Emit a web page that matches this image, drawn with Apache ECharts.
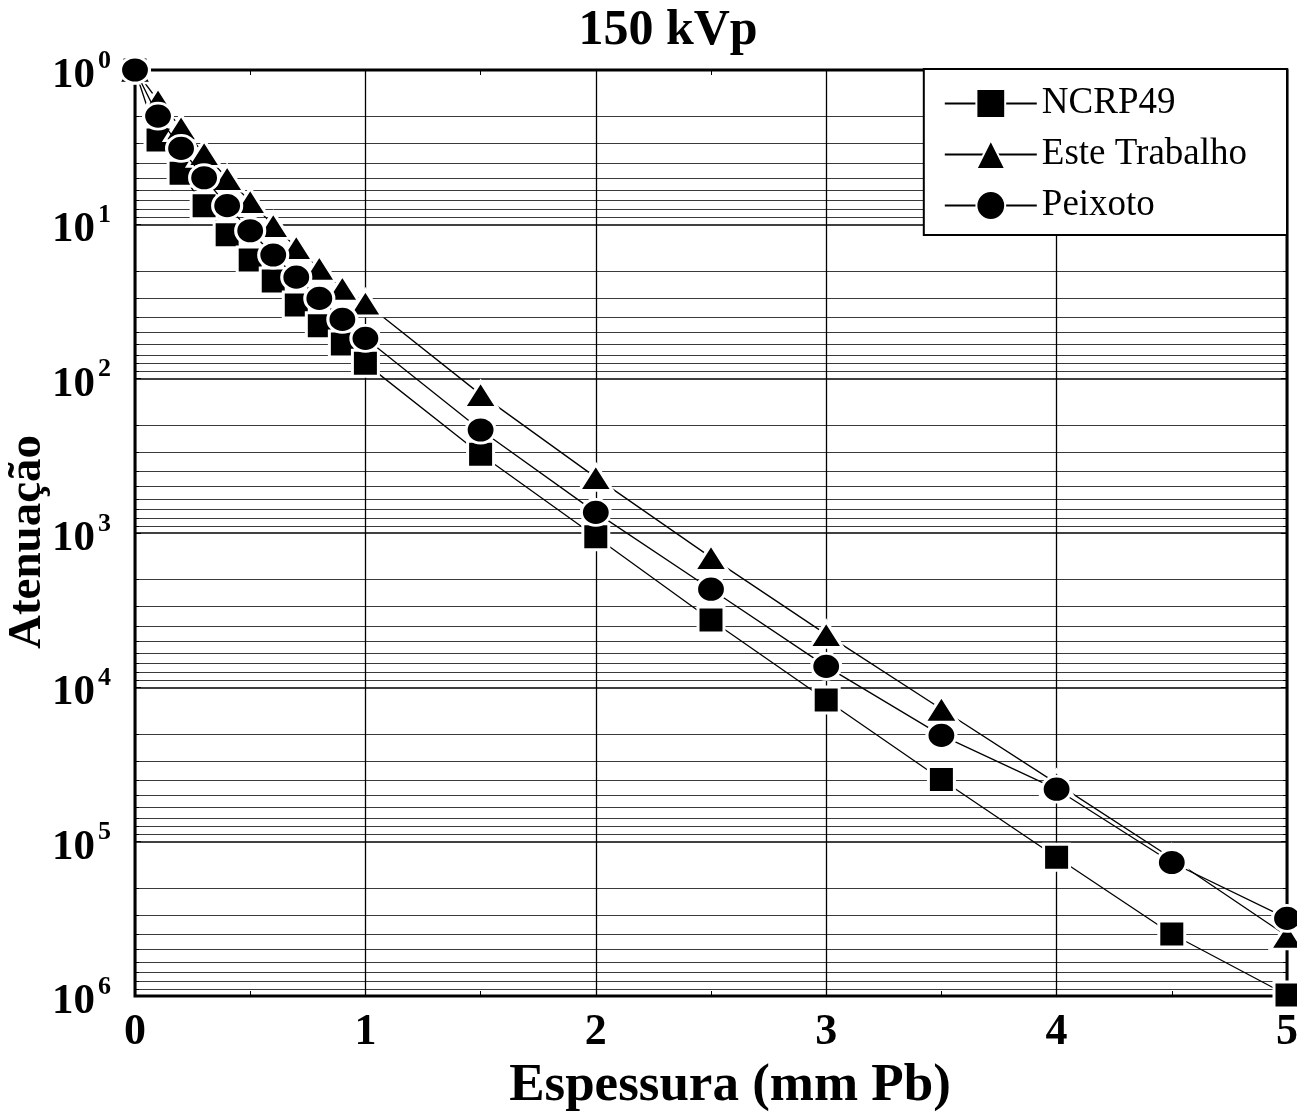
<!DOCTYPE html>
<html><head><meta charset="utf-8">
<script src="https://cdn.jsdelivr.net/npm/echarts@6/dist/echarts.min.js"></script>
<style>html,body{margin:0;padding:0;background:#fff}#c{width:1297px;height:1115px}</style>
</head><body><div id="c"></div>
<script>
// ---- data ----
const thickness = [0, 0.1, 0.2, 0.3, 0.4, 0.5, 0.6, 0.7, 0.8, 0.9, 1.0, 1.5, 2.0, 2.5, 3.0, 3.5, 4.0, 4.5, 5.0];
const ncrp49 = [1, 2.84, 4.67, 7.57, 11.7, 17.0, 23.3, 33.3, 45.4, 59.6, 79.6, 309, 1057, 3664, 12080, 39600, 126300, 396400, 985000];
const esteTrabalho = [1, 1.58, 2.36, 3.47, 5.03, 7.10, 10.15, 14.1, 19.2, 25.9, 32.3, 126.4, 436, 1438, 4536, 13810, 41900, 128200, 408600];
const peixoto = [1, 1.99, 3.22, 4.99, 7.57, 11.0, 15.8, 22.0, 30.2, 41.3, 54.8, 215, 735, 2313, 7311, 20470, 45710, 136500, 314000];
const seriesNames = ['NCRP49', 'Este Trabalho', 'Peixoto'];
const xTickValues = [0, 1, 2, 3, 4, 5];
const yDecades = [0, 1, 2, 3, 4, 5, 6];
const titleText = '150 kVp';
const xName = 'Espessura (mm Pb)';
const yName = 'Atenuação';

const F = '"Liberation Serif", "Times New Roman", serif';
const chart = echarts.init(document.getElementById('c'));

function pairs(ys) { return thickness.map((x, i) => [x, ys[i]]); }

const yMin = Math.pow(10, yDecades[0]);
const yMax = Math.pow(10, yDecades[yDecades.length - 1]);
const xMin = xTickValues[0], xMax = xTickValues[xTickValues.length - 1];

const baseSeries = {
  type: 'line',
  clip: false,
  smooth: false,
  lineStyle: { color: '#000', width: 1.3 },
  itemStyle: { color: '#000', borderColor: '#fff', borderWidth: 3 },
  emphasis: { disabled: true }
};

chart.setOption({
  animation: false,
  backgroundColor: '#fff',
  title: {
    text: titleText, left: 668, top: 31, textAlign: 'center', textVerticalAlign: 'middle', padding: 0,
    textStyle: { fontFamily: F, fontSize: 50, fontWeight: 'bold', color: '#000' }
  },
  legend: {
    orient: 'vertical', right: 10, top: 69,
    itemWidth: 92, itemHeight: 36, itemGap: 14,
    padding: [16, 40, 11, 20],
    backgroundColor: '#fff', borderColor: '#000', borderWidth: 2,
    textStyle: { fontFamily: F, fontSize: 37, color: '#000' },
    data: seriesNames
  },
  grid: {
    left: 135, right: 10, top: 70, bottom: 119,
    show: true, borderColor: '#000', borderWidth: 3, backgroundColor: 'transparent',
    outerBoundsMode: 'none', containLabel: false
  },
  graphic: [
    { type: 'text', x: 730, y: 1086, z: 10,
      style: { text: xName, font: 'bold 53px ' + F, fill: '#000', align: 'center', verticalAlign: 'middle' } },
    { type: 'text', x: 28, y: 542, rotation: Math.PI / 2, z: 10,
      style: { text: yName, font: 'bold 47px ' + F, fill: '#000', align: 'center', verticalAlign: 'middle' } }
  ],
  xAxis: [{
    type: 'value', min: xMin, max: xMax, interval: 1, position: 'bottom',
    axisLine: { show: false, onZero: false },
    axisTick: { show: true, inside: true, length: 6, lineStyle: { color: '#000', width: 1 } },
    minorTick: { show: true, splitNumber: 2, length: 5, lineStyle: { color: '#000', width: 1 } },
    splitLine: { show: true, lineStyle: { color: '#000', width: 1.3 } },
    axisLabel: { show: true, margin: 15, color: '#000', fontFamily: F, fontSize: 44, fontWeight: 'bold',
      showMinLabel: true, showMaxLabel: true, hideOverlap: false }
  }, {
    type: 'value', min: xMin, max: xMax, interval: 1, position: 'top',
    axisLine: { show: false, onZero: false },
    axisTick: { show: true, inside: true, length: 6, lineStyle: { color: '#000', width: 1 } },
    minorTick: { show: true, splitNumber: 2, length: 5, lineStyle: { color: '#000', width: 1 } },
    splitLine: { show: false }, axisLabel: { show: false }
  }],
  yAxis: [{
    type: 'log', logBase: 10, min: yMin, max: yMax, inverse: true, splitNumber: 6,
    axisLine: { show: false, onZero: false },
    axisTick: { show: true, inside: true, length: 6, lineStyle: { color: '#000', width: 1 } },
    minorTick: { show: true, splitNumber: 9, length: 4, lineStyle: { color: '#000', width: 1 } },
    splitLine: { show: true, lineStyle: { color: '#000', width: 1.5 } },
    minorSplitLine: { show: true, lineStyle: { color: '#3a3a3a', width: 1 } },
    axisLabel: {
      margin: 24, color: '#000', padding: [12, 0, 0, 0],
      formatter: v => '{b|10}{s|' + Math.round(Math.log10(v)) + '}',
      rich: {
        b: { fontFamily: F, fontSize: 43, fontWeight: 'bold', color: '#000', lineHeight: 56 },
        s: { fontFamily: F, fontSize: 26, fontWeight: 'bold', color: '#000', verticalAlign: 'top', padding: [0, 0, 0, 3] }
      }
    }
  }, {
    type: 'log', logBase: 10, min: yMin, max: yMax, inverse: true, splitNumber: 6, position: 'right',
    axisLine: { show: false, onZero: false },
    axisTick: { show: true, inside: true, length: 6, lineStyle: { color: '#000', width: 1 } },
    minorTick: { show: true, splitNumber: 9, length: 4, lineStyle: { color: '#000', width: 1 } },
    splitLine: { show: false }, axisLabel: { show: false }
  }],
  series: [
    Object.assign({}, baseSeries, { name: seriesNames[0], symbol: 'rect', symbolSize: 26, data: pairs(ncrp49), z: 3 }),
    Object.assign({}, baseSeries, { name: seriesNames[1], symbol: 'triangle', symbolSize: [33, 26], data: pairs(esteTrabalho), z: 4 }),
    Object.assign({}, baseSeries, { name: seriesNames[2], symbol: 'circle', symbolSize: [29, 26], data: pairs(peixoto), z: 5 })
  ]
});
</script></body></html>
